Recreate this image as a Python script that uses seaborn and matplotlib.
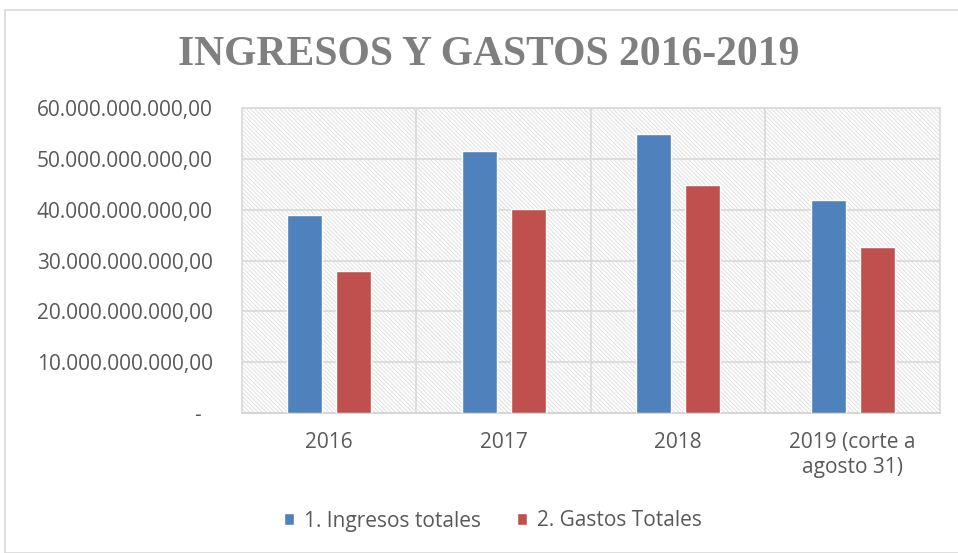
import matplotlib
matplotlib.use("Agg")
import matplotlib.pyplot as plt
import matplotlib.patches as mpatches
import matplotlib.ticker as mticker
import seaborn as sns
import pandas as pd

categories = ["2016", "2017", "2018", "2019 (corte a\nagosto 31)"]
ingresos = [39.0e9, 51.5e9, 54.9e9, 41.9e9]
gastos = [28.0e9, 40.1e9, 44.9e9, 32.7e9]
series_names = ["1. Ingresos totales", "2. Gastos Totales"]
colors = ["#4F81BD", "#C0504D"]

df = pd.DataFrame({
    "cat": categories * 2,
    "val": ingresos + gastos,
    "serie": [series_names[0]] * 4 + [series_names[1]] * 4,
})

sns.set_theme(style="white")
plt.rcParams['font.family'] = ['Open Sans', 'DejaVu Sans']
plt.rcParams['hatch.linewidth'] = 0.7

fig = plt.figure(figsize=(9.58, 5.53), dpi=100)
ax = fig.add_axes([242/958, 1-413/553, (940-242)/958, (413-108)/553])

# outer chart border
fig.patches.append(mpatches.Rectangle((5/958, 0), 1.0, 1-10/553, transform=fig.transFigure,
                                      fill=False, edgecolor="#d9d9d9", linewidth=1.2, zorder=0))

ax.set_facecolor("white")
ax.add_patch(mpatches.Rectangle((0, 0), 1, 1, transform=ax.transAxes, facecolor="white",
                                edgecolor="#e0e0e0", hatch="\\" * 8, linewidth=0, zorder=0))

sns.barplot(data=df, x="cat", y="val", hue="serie", palette=colors, width=0.56, gap=0.29,
            ax=ax, legend=True, zorder=3, saturation=1)

ax.set_ylim(0, 60e9)
ax.set_xlim(-0.5, 3.5)
ax.yaxis.set_major_locator(mticker.MultipleLocator(10e9))

def fmt(v, pos):
    if v == 0:
        return "-  "
    s = f"{int(round(v)):,}".replace(",", ".")
    return s + ",00"
ax.yaxis.set_major_formatter(mticker.FuncFormatter(fmt))

for y in range(1, 7):
    ax.axhline(y * 10e9, color="#d9d9d9", linewidth=1.2, zorder=1)
for x in [0.5, 1.5, 2.5]:
    ax.axvline(x, color="#d9d9d9", linewidth=1.2, zorder=1)

for s in ax.spines.values():
    s.set_color("#d9d9d9")
    s.set_linewidth(1.2)
ax.spines["bottom"].set_color("#d0d0d0")

ax.set_xlabel("")
ax.set_ylabel("")
ax.tick_params(axis="y", labelsize=15, labelcolor="#595959", length=0, pad=21)
ax.tick_params(axis="x", labelsize=15, labelcolor="#595959", length=0, pad=14)
for lbl in ax.get_yticklabels():
    lbl.set_horizontalalignment("right")
for lbl in ax.get_xticklabels():
    lbl.set_linespacing(1.25)

handles, labels = ax.get_legend_handles_labels()
ax.legend_.remove()
fig.legend(handles, labels, loc="center", bbox_to_anchor=(493/958, 1-521/553), ncol=2,
           frameon=False, fontsize=15, labelcolor="#595959", handlelength=0.48, handleheight=0.48,
           columnspacing=1.7, handletextpad=0.48)

fig.text(489/958, 1-55/553, "INGRESOS Y GASTOS 2016-2019", ha="center", va="center",
         fontsize=30, fontweight="bold", color="#7f7f7f", family=["Liberation Serif"])

fig.savefig("out.png", dpi=100, facecolor="white")
